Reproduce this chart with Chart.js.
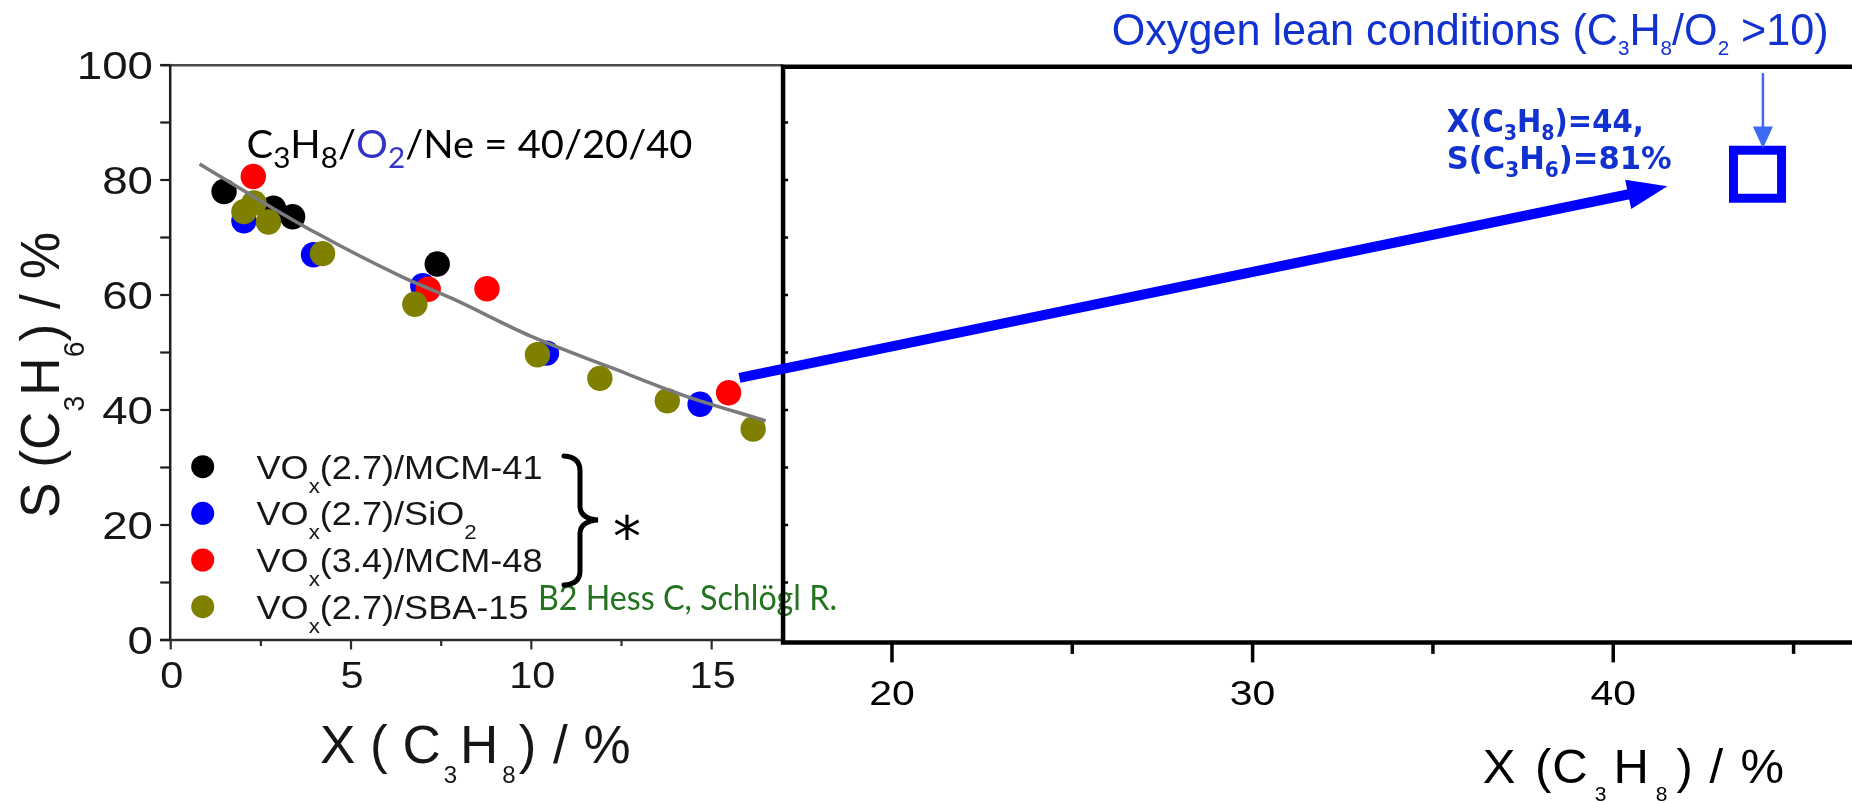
<!DOCTYPE html>
<html>
<head>
<meta charset="utf-8">
<script src="https://cdn.jsdelivr.net/npm/chart.js@4.4.1/dist/chart.umd.min.js"></script>
<style>
  html, body { margin: 0; padding: 0; background: #ffffff; overflow: hidden; }
  canvas { display: block; }
</style>
</head>
<body>
<canvas id="chart" width="1852" height="803"></canvas>
<script>
// Propane conversion X (%) and propene selectivity S (%) per catalyst
const mcm41X = [1.48, 2.85, 3.38, 7.39];
const mcm41S = [78.0, 75.1, 73.6, 65.4];
const sio2X  = [2.03, 3.96, 6.99, 10.42, 14.68];
const sio2S  = [72.9, 67.0, 61.6, 49.9, 41.0];
const mcm48X = [2.29, 7.14, 8.77, 15.47];
const mcm48S = [80.6, 61.0, 61.1, 43.0];
const sba15X = [2.03, 2.31, 2.71, 4.21, 6.77, 10.17, 11.90, 13.77, 16.15];
const sba15S = [74.5, 76.0, 72.7, 67.2, 58.4, 49.6, 45.5, 41.6, 36.7];

// Trend curve through the catalytic data
const trendX = [0.8, 2.7, 4.0, 6.4, 7.8, 10.0, 12.2, 14.2, 16.5];
const trendS = [82.8, 75.6, 70.9, 63.2, 59.4, 52.8, 47.4, 42.6, 38.1];

// Oxygen-lean result
const leanX = [44];
const leanS = [81];

// Series names (legend) and colours
const seriesNames  = ['VOx(2.7)/MCM-41', 'VOx(2.7)/SiO2', 'VOx(3.4)/MCM-48', 'VOx(2.7)/SBA-15'];
const seriesColors = ['#000000', '#0000ff', '#ff0000', '#808000'];

// Axis ticks
const xTicksLeft  = [0, 5, 10, 15];
const xMinorLeft  = [2.5, 7.5, 12.5];
const xTicksRight = [20, 30, 40];
const xMinorRight = [25, 35, 45];
const yTicks      = [0, 20, 40, 60, 80, 100];
const yMinor      = [10, 30, 50, 70, 90];
const frameYTicks = [10, 20, 30, 40, 50, 60, 70, 80, 90];

// Conversion where the wide-range panel begins
const splitX = 16.98;

const pts = (xs, ys) => xs.map((x, i) => ({ x: x, y: ys[i] }));

// Draws a run of text with subscripts; optional horizontal fit/scale and rotation.
// Returns the horizontal scale used.
function rich(ctx, segs, x, y, o) {
  const fam = o.family || 'Liberation Sans';
  const w = o.weight || 'normal';
  const mainF = w + ' ' + o.size + 'px "' + fam + '"';
  const subF = w + ' ' + (o.sub || Math.round(o.size * 0.6)) + 'px "' + fam + '"';
  let nat = 0;
  for (const s of segs) {
    ctx.font = s.s ? subF : mainF;
    nat += (s.g || 0) + ctx.measureText(s.t).width;
  }
  const sx = o.width ? o.width / nat : (o.sx || 1);
  ctx.save();
  ctx.translate(x, y);
  if (o.rot) ctx.rotate(o.rot);
  let start = 0;
  if (o.align === 'right') start = -nat * sx;
  else if (o.align === 'center') start = -nat * sx / 2;
  ctx.translate(start, 0);
  ctx.scale(sx, 1);
  ctx.textBaseline = 'alphabetic';
  ctx.textAlign = 'left';
  let cx = 0;
  for (const s of segs) {
    cx += s.g || 0;
    ctx.font = s.s ? subF : mainF;
    ctx.fillStyle = s.c || o.color || '#111';
    ctx.fillText(s.t, cx, s.s ? (o.dy || 0) : 0);
    cx += ctx.measureText(s.t).width;
  }
  ctx.restore();
  return sx;
}

function line(ctx, x0, y0, x1, y1, lw, color) {
  ctx.save();
  ctx.strokeStyle = color;
  ctx.lineWidth = lw;
  ctx.beginPath();
  ctx.moveTo(x0, y0);
  ctx.lineTo(x1, y1);
  ctx.stroke();
  ctx.restore();
}

function arrow(ctx, x0, y0, x1, y1, lw, headL, headW, color) {
  const dx = x1 - x0, dy = y1 - y0, len = Math.hypot(dx, dy);
  const ux = dx / len, uy = dy / len;
  const bx = x1 - ux * headL, by = y1 - uy * headL;
  ctx.save();
  ctx.strokeStyle = color;
  ctx.fillStyle = color;
  ctx.lineWidth = lw;
  ctx.beginPath();
  ctx.moveTo(x0, y0);
  ctx.lineTo(bx + ux * 2, by + uy * 2);
  ctx.stroke();
  ctx.beginPath();
  ctx.moveTo(x1, y1);
  ctx.lineTo(bx - uy * headW, by + ux * headW);
  ctx.lineTo(bx + uy * headW, by - ux * headW);
  ctx.closePath();
  ctx.fill();
  ctx.restore();
}

// Axes, frames, legend and annotations of the two-panel figure
const figurePlugin = {
  id: 'figure',
  beforeDatasetsDraw(chart) {
    const ctx = chart.ctx;
    const X = v => chart.scales.x.getPixelForValue(v);
    const Y = v => chart.scales.y.getPixelForValue(v);
    const x0 = X(0), xs = X(splitX), yTop = Y(100), yBot = Y(0);

    // reference line under the legend block
    rich(ctx, [{ t: 'B2 Hess C, Schlögl R.' }], 538, 610,
      { size: 34, family: 'Lato', color: '#23731f', width: 299 });

    // left panel axes
    line(ctx, x0 - 10.5, yTop + 0.3, xs, yTop + 0.3, 2.5, '#4a4a4a');
    line(ctx, x0 - 0.5, yTop, x0 - 0.5, yBot, 2.5, '#1e1e1e');
    line(ctx, x0 - 10.5, yBot, xs, yBot, 2.5, '#2e2e2e');
    for (const v of yTicks.concat(yMinor)) line(ctx, x0 - 10.5, Y(v), x0, Y(v), 2.2, '#1e1e1e');
    for (const v of xTicksLeft) line(ctx, X(v), yBot, X(v), yBot + 9.5, 2.2, '#2e2e2e');
    for (const v of xMinorLeft) line(ctx, X(v), yBot, X(v), yBot + 6, 2.2, '#2e2e2e');

    // wide-range panel frame
    const fTop = yTop + 1.7, fBot = yBot + 2.4, fRight = chart.width + 5;
    ctx.save();
    ctx.strokeStyle = '#000';
    ctx.lineWidth = 4.5;
    ctx.lineJoin = 'miter';
    ctx.beginPath();
    ctx.moveTo(fRight, fTop);
    ctx.lineTo(xs, fTop);
    ctx.lineTo(xs, fBot);
    ctx.lineTo(fRight, fBot);
    ctx.stroke();
    ctx.restore();
    for (const v of frameYTicks) line(ctx, xs, Y(v), xs + 5, Y(v), 2.5, '#000');
    for (const v of xTicksRight) line(ctx, X(v), fBot, X(v), fBot + 20, 3.5, '#000');
    for (const v of xMinorRight) line(ctx, X(v), fBot, X(v), fBot + 11.5, 3.5, '#000');
  },
  afterDatasetsDraw(chart) {
    const ctx = chart.ctx;
    const X = v => chart.scales.x.getPixelForValue(v);
    const Y = v => chart.scales.y.getPixelForValue(v);

    // tick labels
    for (const v of yTicks) rich(ctx, [{ t: String(v) }], 153, Y(v) + 14, { size: 39, sx: 1.17, align: 'right', color: '#161616' });
    for (const v of xTicksLeft) rich(ctx, [{ t: String(v) }], X(v) + 1, 688, { size: 37, sx: 1.12, align: 'center', color: '#161616' });
    for (const v of xTicksRight) rich(ctx, [{ t: String(v) }], X(v), 705, { size: 35, sx: 1.17, align: 'center', color: '#000' });

    // axis titles
    rich(ctx, [{ t: 'S (C' }, { t: '3', s: 1 }, { t: 'H' }, { t: '6', s: 1 }, { t: ') / %' }], 58.5, 518,
      { size: 56, sub: 30, dy: 25, width: 286, rot: -Math.PI / 2, color: '#161616' });
    rich(ctx, [{ t: 'X ( C' }, { t: '3', s: 1, g: 3 }, { t: 'H', g: 3 }, { t: '8', s: 1, g: 4 }, { t: ')', g: 3 }, { t: ' /', g: 2 }, { t: ' %', g: 1 }],
      320, 763, { size: 53, sub: 24, dy: 20, color: '#161616' });
    rich(ctx, [{ t: 'X' }, { t: ' (', g: 6 }, { t: 'C', g: 1 }, { t: '3', s: 1, g: 7 }, { t: 'H', g: 7 }, { t: '8', s: 1, g: 7 }, { t: ')', g: 9 }, { t: ' /', g: 3 }, { t: ' %', g: 4 }],
      1482.7, 783.3, { size: 49, sub: 21, dy: 18, color: '#000' });

    // feed composition
    const o2 = '#3434c8';
    rich(ctx, [{ t: 'C' }, { t: '3', s: 1 }, { t: 'H' }, { t: '8', s: 1 }, { t: '/' }, { t: 'O', c: o2 }, { t: '2', s: 1, c: o2 }, { t: '/Ne = 40/20/40' }],
      246.5, 158.3, { size: 39, sub: 29, dy: 10, family: 'Lato', width: 446, color: '#000' });

    // legend
    const rows = [466.7, 513.3, 560, 606.7];
    const legendSegs = [
      [{ t: 'VO' }, { t: 'x', s: 1 }, { t: '(2.7)/MCM-41' }],
      [{ t: 'VO' }, { t: 'x', s: 1 }, { t: '(2.7)/SiO' }, { t: '2', s: 1 }],
      [{ t: 'VO' }, { t: 'x', s: 1 }, { t: '(3.4)/MCM-48' }],
      [{ t: 'VO' }, { t: 'x', s: 1 }, { t: '(2.7)/SBA-15' }]
    ];
    let legendSx = 1;
    rows.forEach((ry, i) => {
      ctx.save();
      ctx.fillStyle = seriesColors[i];
      ctx.beginPath();
      ctx.arc(202.7, ry, 11.5, 0, Math.PI * 2);
      ctx.fill();
      ctx.restore();
      const opt = { size: 34, sub: 21, dy: 14, color: '#161616' };
      if (i === 0) opt.width = 286; else opt.sx = legendSx;
      const used = rich(ctx, legendSegs[i], 256.5, ry + 12, opt);
      if (i === 0) legendSx = used;
    });

    // brace grouping the legend and the asterisk
    ctx.save();
    ctx.strokeStyle = '#000';
    ctx.lineWidth = 5;
    ctx.lineCap = 'round';
    ctx.beginPath();
    ctx.moveTo(564, 456);
    ctx.quadraticCurveTo(580, 457, 580, 471);
    ctx.lineTo(580, 507);
    ctx.quadraticCurveTo(581, 519, 598, 520);
    ctx.quadraticCurveTo(581, 521, 580, 533);
    ctx.lineTo(580, 571);
    ctx.quadraticCurveTo(580, 584, 564, 585);
    ctx.stroke();
    ctx.font = '56px "DejaVu Sans"';
    const m = ctx.measureText('*');
    ctx.fillStyle = '#000';
    ctx.textBaseline = 'alphabetic';
    ctx.textAlign = 'left';
    const aw = m.actualBoundingBoxRight - m.actualBoundingBoxLeft;
    const ah = m.actualBoundingBoxAscent + m.actualBoundingBoxDescent;
    ctx.fillText('*', 628 - aw / 2 + m.actualBoundingBoxLeft, 527 + ah / 2 - m.actualBoundingBoxDescent);
    ctx.restore();

    // arrow from the low-conversion data to the oxygen-lean point
    arrow(ctx, X(15.77), Y(45.6), X(41.5), Y(78.9), 10, 40, 15, '#0000ff');
    // marker arrow from the condition label
    arrow(ctx, X(44.15), Y(98.6), X(44.15), Y(85.5), 2.5, 22, 10, '#3d6af2');

    const blue = '#1232d0';
    rich(ctx, [{ t: 'Oxygen lean conditions (C' }, { t: '3', s: 1 }, { t: 'H' }, { t: '8', s: 1 }, { t: '/O' }, { t: '2', s: 1 }, { t: ' >10)' }],
      1111.7, 45, { size: 44, sub: 21, dy: 10, width: 717, color: blue });
    rich(ctx, [{ t: 'X(C' }, { t: '3', s: 1 }, { t: 'H' }, { t: '8', s: 1 }, { t: ')=' + leanX[0] + ',' }],
      1446.7, 131.7, { size: 32, sub: 21, dy: 8, weight: 'bold', family: 'DejaVu Sans', width: 197, color: blue });
    rich(ctx, [{ t: 'S(C' }, { t: '3', s: 1 }, { t: 'H' }, { t: '6', s: 1 }, { t: ')=' + leanS[0] + '%' }],
      1446.7, 169.3, { size: 32, sub: 21, dy: 8, weight: 'bold', family: 'DejaVu Sans', width: 225, color: blue });
  }
};

const dot = (label, xs, ys, color, order) => ({
  type: 'scatter',
  label: label,
  data: pts(xs, ys),
  backgroundColor: color,
  borderWidth: 0,
  pointRadius: 12.7,
  pointHoverRadius: 12.7,
  order: order
});

new Chart(document.getElementById('chart'), {
  type: 'scatter',
  data: {
    datasets: [
      {
        type: 'line',
        label: 'trend',
        data: pts(trendX, trendS),
        borderColor: '#7a7a7a',
        borderWidth: 3.5,
        pointRadius: 0,
        fill: false,
        cubicInterpolationMode: 'monotone',
        order: 0
      },
      {
        type: 'scatter',
        label: 'oxygen lean',
        data: pts(leanX, leanS),
        pointStyle: 'rect',
        pointRadius: 34,
        pointHoverRadius: 34,
        borderWidth: 9,
        borderColor: '#0000ff',
        backgroundColor: 'rgba(255,255,255,0)',
        order: 0
      },
      dot(seriesNames[3], sba15X, sba15S, seriesColors[3], 1),
      dot(seriesNames[2], mcm48X, mcm48S, seriesColors[2], 2),
      dot(seriesNames[1], sio2X, sio2S, seriesColors[1], 3),
      dot(seriesNames[0], mcm41X, mcm41S, seriesColors[0], 4)
    ]
  },
  options: {
    responsive: false,
    animation: false,
    events: [],
    layout: { autoPadding: false, padding: { left: 170.7, right: 0, top: 65, bottom: 163 } },
    scales: {
      x: { type: 'linear', min: 0, max: 46.62, display: false },
      y: { type: 'linear', min: 0, max: 100, display: false }
    },
    plugins: {
      legend: { display: false },
      tooltip: { enabled: false }
    }
  },
  plugins: [figurePlugin]
});
</script>
</body>
</html>
